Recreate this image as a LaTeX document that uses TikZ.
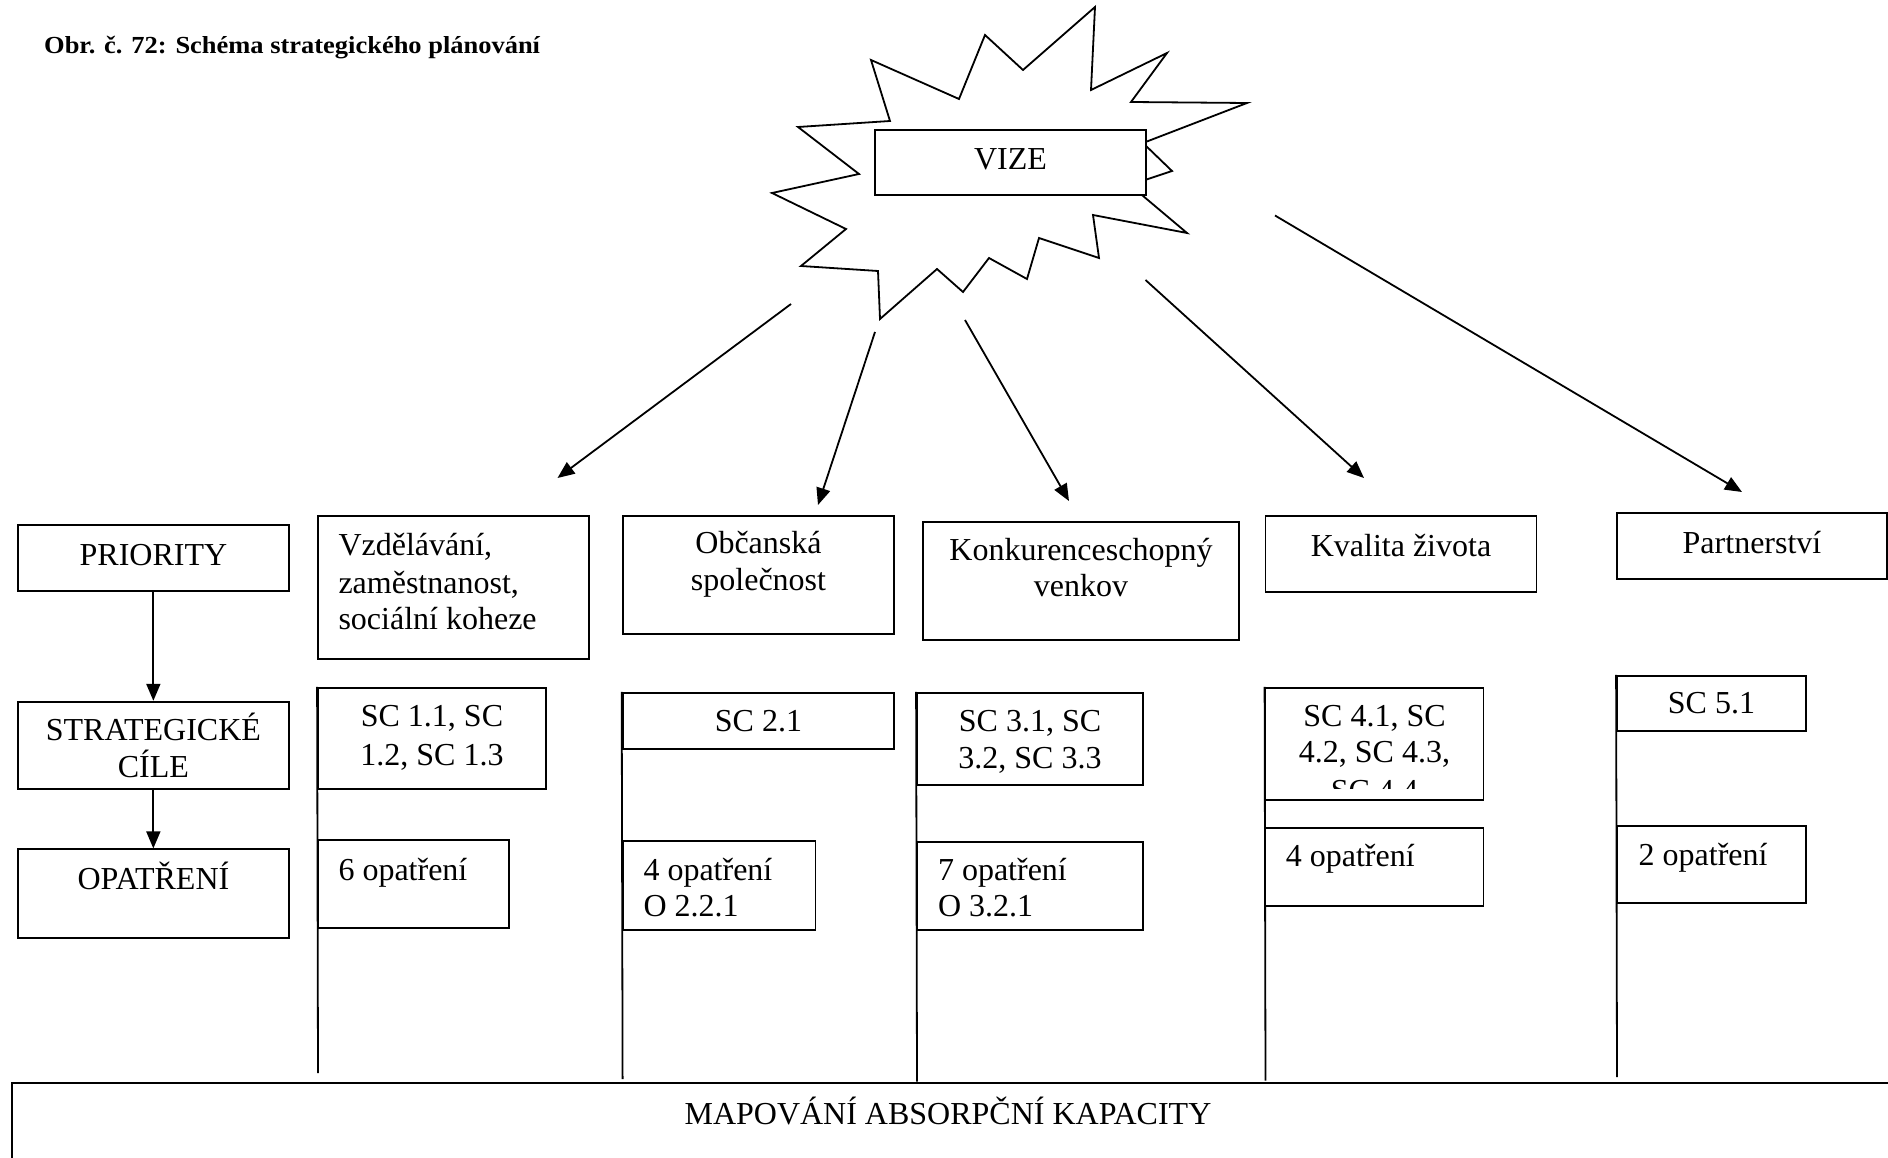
\documentclass[tikz,border=0pt]{standalone}
\usepackage{fontspec}
\setmainfont{Liberation Serif}
\usetikzlibrary{arrows.meta,fit}
\begin{document}
\begin{tikzpicture}[x=1pt,y=-1pt,
  boxst/.style={draw, line width=1.8pt, inner sep=0pt, fill=white},
  lbl/.style={inner sep=0pt, font=\fontsize{32}{37}\selectfont},
  conn/.style={line width=1.8pt},
  arr/.style={line width=1.8pt, -{Triangle[length=17pt,width=14pt]}}]
\useasboundingbox (0,0) rectangle (1888,1158);
\begin{scope}
\clip (0,0) rectangle (1888,1158);

% title
\node[inner sep=0pt, anchor=base west] (title) at (44,54)
  {\scalebox{1.08}[1]{\bfseries\fontsize{24.5}{28}\selectfont Obr. č. 72: Schéma strategického plánování}};

% star
\draw[line width=1.8pt, fill=white] (1095,7) -- (1091,90) -- (1167,53) -- (1131,102) -- (1247,103)
  -- (1143,143) -- (1172,171) -- (1130,185) -- (1187,233) -- (1093,215) -- (1099,258)
  -- (1039,238) -- (1027,279) -- (989,258) -- (963,292) -- (937,269) -- (880,319)
  -- (878,271) -- (801,266) -- (846,229) -- (772,193) -- (859,174) -- (798,127)
  -- (890,121) -- (871,60) -- (959,99) -- (985,35) -- (1023,70) -- cycle;
\node[boxst, fit={(875,130) (1146,194.7)}] (vize) {};
\node[lbl, anchor=base] at (1010.5,170) {VIZE};

% arrows from the vision
\coordinate (s1) at (791,304);   \coordinate (t1) at (557.5,478);
\coordinate (s2) at (875,332);   \coordinate (t2) at (818,505);
\coordinate (s3) at (965,320);   \coordinate (t3) at (1069,501);
\coordinate (s4) at (1145.5,280); \coordinate (t4) at (1364,478);
\coordinate (s5) at (1275,215.5); \coordinate (t5) at (1742,492);
\draw[arr] (s1) -- (t1);
\draw[arr] (s2) -- (t2);
\draw[arr] (s3) -- (t3);
\draw[arr] (s4) -- (t4);
\draw[arr] (s5) -- (t5);

% left legend column
\node[boxst, fit={(17.7,525) (289,590.7)}] (pri) {};
\node[lbl, anchor=base] at (153.4,565) {PRIORITY};
\node[boxst, fit={(17.7,701.7) (289,789.3)}] (sc) {};
\node[lbl, anchor=base] at (153.4,740.7) {STRATEGICKÉ};
\node[lbl, anchor=base] at (153.4,777.3) {CÍLE};
\node[boxst, fit={(17.7,849.3) (289,937.7)}] (op) {};
\node[lbl, anchor=base] at (153.4,889.3) {OPATŘENÍ};
\draw[arr] (pri.south) -- (sc.north);
\draw[arr] (sc.south) -- (op.north);

% column 1
\node[boxst, fit={(318,515.7) (589.3,658.7)}] (p1) {};
\node[lbl, anchor=base west] at (338.3,555) {Vzdělávání,};
\node[lbl, anchor=base west] at (338.3,593) {zaměstnanost,};
\node[lbl, anchor=base west] at (338.3,629.3) {sociální koheze};
\coordinate (e1) at (318,1073);
\node[boxst, fit={(318,687.7) (546.1,789.3)}] (sc1) {};
\draw[conn] (sc1.north west) -- (e1);
\node[lbl, anchor=base] at (432,726.7) {SC 1.1, SC};
\node[lbl, anchor=base] at (432,765) {1.2, SC 1.3};
\node[boxst, fit={(318,840) (508.6,927.7)}] (o1) {};
\node[lbl, anchor=base west] at (338.3,880) {6 opatření};

% column 2
\node[boxst, fit={(622.6,515.7) (894.3,634)}] (p2) {};
\node[lbl, anchor=base] at (758.5,553) {Občanská};
\node[lbl, anchor=base] at (758.5,590.7) {společnost};
\coordinate (e2) at (622.6,1079);
\node[boxst, fit={(622.6,692.7) (894.3,748.7)}] (sc2) {};
\draw[conn] (sc2.north west) -- (e2);
\node[lbl, anchor=base] at (758.5,731.7) {SC 2.1};
\node[boxst, fit={(622.6,841) (815.5,930)}] (o2) {};
\node[lbl, anchor=base west] at (643.3,880) {4 opatření};
\node[lbl, anchor=base west] at (643.3,916.7) {O 2.2.1};

% column 3
\node[boxst, fit={(923.3,521.7) (1239,640)}] (p3) {};
\node[lbl, anchor=base] at (1081,560) {Konkurenceschopný};
\node[lbl, anchor=base] at (1081,596.7) {venkov};
\coordinate (e3) at (917,1081.5);
\node[boxst, fit={(917,692.7) (1143.2,785)}] (sc3) {};
\draw[conn] (sc3.north west) -- (e3);
\node[lbl, anchor=base] at (1030,731.7) {SC 3.1, SC};
\node[lbl, anchor=base] at (1030,768.3) {3.2, SC 3.3};
\node[boxst, fit={(917,841.7) (1143.2,930)}] (o3) {};
\node[lbl, anchor=base west] at (937.8,880) {7 opatření};
\node[lbl, anchor=base west] at (937.8,916.7) {O 3.2.1};

% column 4
\node[boxst, fit={(1265.5,515.7) (1536.4,591.7)}] (p4) {};
\node[lbl, anchor=base] at (1401,556.7) {Kvalita života};
\coordinate (e4) at (1265.5,1080.5);
\node[boxst, fit={(1265.5,687.7) (1483.5,800)}] (sc4) {};
\draw[conn] (sc4.north west) -- (e4);
\begin{scope}
\clip (1267,689) rectangle (1482,788.5);
\node[lbl, anchor=base] at (1374.5,726.7) {SC 4.1, SC};
\node[lbl, anchor=base] at (1374.5,762) {4.2, SC 4.3,};
\node[lbl, anchor=base] at (1374.5,801) {SC 4.4};
\end{scope}
\node[boxst, fit={(1265.5,827.7) (1483.5,905.7)}] (o4) {};
\node[lbl, anchor=base west] at (1285.6,866.7) {4 opatření};

% column 5
\node[boxst, fit={(1617,513.3) (1887,579)}] (p5) {};
\node[lbl, anchor=base] at (1752,553.3) {Partnerství};
\coordinate (e5) at (1617,1077);
\node[boxst, fit={(1617,675.7) (1806,731)}] (sc5) {};
\draw[conn] (sc5.north west) -- (e5);
\node[lbl, anchor=base] at (1711.5,713.3) {SC 5.1};
\node[boxst, fit={(1617,825.7) (1806,903.3)}] (o5) {};
\node[lbl, anchor=base west] at (1638.5,865) {2 opatření};

% bottom
\node[boxst, fit={(12,1082.7) (1895,1175)}] (map) {};
\node[lbl, anchor=base] at (948,1124) {MAPOVÁNÍ ABSORPČNÍ KAPACITY};
\end{scope}
\end{tikzpicture}
\end{document}
